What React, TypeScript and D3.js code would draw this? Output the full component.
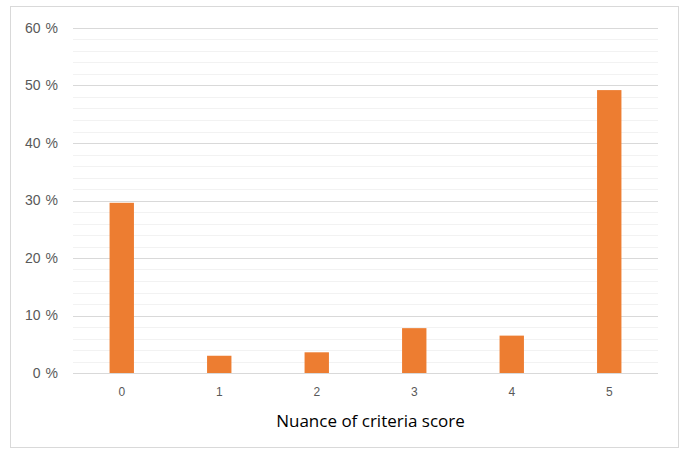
import React from 'react';
import * as d3 from 'd3';

const categories = ['0', '1', '2', '3', '4', '5'];
const shares = [29.6, 3.0, 3.6, 7.8, 6.5, 49.2];
const majorTicks = [0, 10, 20, 30, 40, 50, 60];
const minorTicks = [2, 4, 6, 8, 12, 14, 16, 18, 22, 24, 26, 28, 32, 34, 36, 38, 42, 44, 46, 48, 52, 54, 56, 58];
const xTitle = 'Nuance of criteria score';

const W = 683;
const H = 449;
const margin = { top: 28, right: 25, bottom: 76, left: 73 };

export default function App() {
  const innerW = W - margin.left - margin.right;
  const innerH = H - margin.top - margin.bottom;

  const x = d3.scaleBand().domain(categories).range([0, innerW]).paddingInner(0.75).paddingOuter(0.375);
  const y = d3.scaleLinear().domain([0, 60]).range([innerH, 0]);

  return (
    <svg width={W} height={H} style={{ position: 'absolute', left: 0, top: 0, background: '#fff' }}>
      <rect x={10.5} y={6.5} width={668} height={441} fill="#fff" stroke="#d9d9d9" />
      <g transform={`translate(${margin.left},${margin.top})`}>
        {/* minor grid */}
        {minorTicks.map(t => (
          <line key={'m' + t} x1={0} x2={innerW} y1={Math.round(y(t)) + 0.5} y2={Math.round(y(t)) + 0.5} stroke="#f2f2f2" />
        ))}
        {/* major grid */}
        {majorTicks.map(t => (
          <line key={'g' + t} x1={0} x2={innerW} y1={Math.round(y(t)) + 0.5} y2={Math.round(y(t)) + 0.5} stroke="#d9d9d9" />
        ))}
        {majorTicks.map(t => (
          <text key={'l' + t} x={-15} y={y(t)} dy="0.35em" textAnchor="end" fontSize={14}
            fontFamily="'Liberation Sans', Arial, sans-serif" fill="#595959">
            <tspan>{t}</tspan>
            <tspan dx={5}>%</tspan>
          </text>
        ))}
        {categories.map((c, i) => (
          <rect key={c} x={x(c)} y={y(shares[i])} width={x.bandwidth()} height={innerH - y(shares[i])} fill="#ed7d31" />
        ))}
        {categories.map(c => (
          <text key={'x' + c} x={(x(c) ?? 0) + x.bandwidth() / 2} y={innerH + 23} textAnchor="middle" fontSize={12}
            fontFamily="'Liberation Sans', Arial, sans-serif" fill="#595959">
            {c}
          </text>
        ))}
        <text x={innerW / 2 + 5} y={innerH + 54} textAnchor="middle" fontSize={17}
          fontFamily="'Open Sans', 'Noto Sans', sans-serif" fill="#000">
          {xTitle}
        </text>
      </g>
    </svg>
  );
}
